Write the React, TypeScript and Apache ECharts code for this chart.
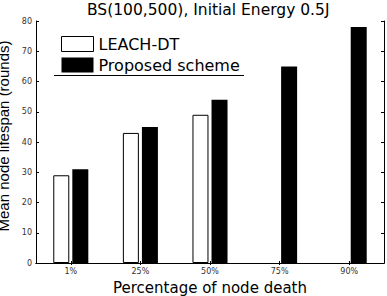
import React, { useEffect, useRef } from "react";
import * as echarts from "echarts";

const categories = ["1%", "25%", "50%", "75%", "90%"];
const leachDT: (number | null)[] = [29, 43, 49, null, null];
const proposed = [31, 45, 54, 65, 78];
const yMin = 0;
const yMax = 80;
const yInterval = 10;
const titleText = "BS(100,500), Initial Energy 0.5J";
const xName = "Percentage of node death";
const yName = "Mean node lifespan (rounds)";
const seriesNames = ["LEACH-DT", "Proposed scheme"];

const WIDE = "DejaVu Sans";
const ARIAL = "Liberation Sans";

export default function App() {
  const ref = useRef<HTMLDivElement>(null);
  useEffect(() => {
    if (!ref.current) return;
    const chart = echarts.init(ref.current, undefined, { renderer: "svg" });
    const tickStyle = { show: true, inside: true, length: 3, lineStyle: { color: "#000", width: 1 } };
    chart.setOption({
      animation: false,
      backgroundColor: "#fff",
      textStyle: { fontFamily: WIDE },
      title: {
        text: titleText,
        left: 82,
        top: -3,
        padding: 5,
        textStyle: { fontFamily: WIDE, fontSize: 15.5, fontWeight: "normal", color: "#000" },
      },
      grid: { left: 36, right: 3, top: 21, bottom: 33, containLabel: false, outerBoundsMode: "none" },
      legend: {
        orient: "vertical",
        left: 56,
        top: 31,
        itemWidth: 32,
        itemHeight: 15,
        itemGap: 5,
        icon: "rect",
        textStyle: { fontFamily: WIDE, fontSize: 16, color: "#000" },
        data: [
          { name: seriesNames[0], itemStyle: { color: "#fff", borderColor: "#000", borderWidth: 1 } },
          { name: seriesNames[1], itemStyle: { color: "#000", borderWidth: 0 } },
        ],
      },
      graphic: [
        {
          type: "line",
          shape: { x1: 54, y1: 75.5, x2: 244, y2: 75.5 },
          style: { stroke: "#000", lineWidth: 1 },
        },
      ],
      xAxis: [
        {
          type: "category",
          data: categories,
          position: "bottom",
          axisLine: { show: true, lineStyle: { color: "#000", width: 1 } },
          axisTick: { ...tickStyle, alignWithLabel: true, length: 2 },
          axisLabel: { fontSize: 8, color: "#333", margin: 4, fontFamily: WIDE },
          name: xName,
          nameLocation: "middle",
          nameGap: 17,
          nameTextStyle: { fontSize: 15, color: "#000", fontFamily: WIDE, lineHeight: 15 },
        },
        {
          type: "category",
          data: categories,
          position: "top",
          axisLine: { show: true, lineStyle: { color: "#000", width: 1 } },
          axisTick: { ...tickStyle, alignWithLabel: true, length: 2 },
          axisLabel: { show: false },
        },
      ],
      yAxis: [
        {
          type: "value",
          min: yMin,
          max: yMax,
          interval: yInterval,
          position: "left",
          axisLine: { show: true, lineStyle: { color: "#000", width: 1 } },
          axisTick: tickStyle,
          splitLine: { show: false },
          axisLabel: { fontSize: 8, color: "#333", margin: 4, fontFamily: WIDE },
          name: yName,
          nameLocation: "middle",
          nameGap: 15,
          nameTextStyle: { fontSize: 15, color: "#000", fontFamily: ARIAL, lineHeight: 15, padding: [0, 0, 0, 12] },
        },
        {
          type: "value",
          min: yMin,
          max: yMax,
          interval: yInterval,
          position: "right",
          axisLine: { show: true, lineStyle: { color: "#000", width: 1 } },
          axisTick: tickStyle,
          splitLine: { show: false },
          axisLabel: { show: false },
        },
      ],
      series: [
        {
          name: seriesNames[0],
          type: "bar",
          data: leachDT,
          barWidth: 16,
          barGap: "19%",
          itemStyle: { color: "#fff", borderColor: "#000", borderWidth: 1 },
        },
        {
          name: seriesNames[1],
          type: "bar",
          data: proposed,
          barWidth: 16,
          barGap: "19%",
          itemStyle: { color: "#000" },
        },
      ],
    });
    return () => chart.dispose();
  }, []);
  return (
    <div
      ref={ref}
      style={{ position: "absolute", left: 0, top: 0, width: 387, height: 296 }}
    />
  );
}
